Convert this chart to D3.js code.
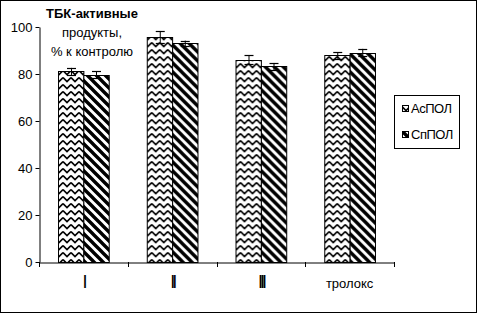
<!DOCTYPE html>
<html lang="ru">
<head>
    <meta charset="UTF-8">
    <title>ТБК-активные продукты</title>
    <style>
        body { margin: 0; background: #fff; }
        text { font-family: "Liberation Sans", Arial, sans-serif; fill: #000; }
        .tick-label { font-size: 13px; }
        .title { font-size: 13px; }
        .legend-label { font-size: 13px; }
    </style>
</head>
<body>
    <svg width="477" height="313"></svg>
    <script src="https://d3js.org/d3.v7.min.js"></script>
    <script>
        const categories = ["I", "II", "III", "тролокс"];
        const series = ["АсПОЛ", "СпПОЛ"];
        const asPOL = [81.1, 95.8, 86.0, 87.9];
        const spPOL = [79.6, 93.0, 83.2, 89.1];
        const asErr = [1.5, 2.5, 1.9, 1.4];
        const spErr = [1.5, 1.2, 1.5, 1.6];
        const yTicks = [0, 20, 40, 60, 80, 100];
        const titleLines = ["ТБК-активные", "продукты,", "% к контролю"];

        const svg = d3.select("svg"),
            margin = {top: 27, right: 83, bottom: 51, left: 39},
            width = 477 - margin.left - margin.right,
            height = 313 - margin.top - margin.bottom;

        // outer frame
        svg.append("rect")
            .attr("x", 0.5).attr("y", 0.5)
            .attr("width", 476).attr("height", 312)
            .attr("fill", "#fff").attr("stroke", "#000");

        const defs = svg.append("defs");

        // zigzag fill
        const zz = defs.append("pattern")
            .attr("id", "zigzag")
            .attr("patternUnits", "userSpaceOnUse")
            .attr("width", 8).attr("height", 7);
        zz.append("rect").attr("width", 8).attr("height", 7).attr("fill", "#fff");
        zz.append("path")
            .attr("d", "M0,1.5 L4,5.5 L8,1.5")
            .attr("fill", "none").attr("stroke", "#000").attr("stroke-width", 1.6);

        // diagonal stripes fill
        const st = defs.append("pattern")
            .attr("id", "stripes")
            .attr("patternUnits", "userSpaceOnUse")
            .attr("width", 9).attr("height", 9);
        st.append("rect").attr("width", 9).attr("height", 9).attr("fill", "#fff");
        st.append("path")
            .attr("d", "M-3,-3 L12,12 M-3,6 L3,12 M6,-3 L12,3")
            .attr("stroke", "#000").attr("stroke-width", 3.4);

        const fills = ["url(#zigzag)", "url(#stripes)"];

        const g = svg.append("g").attr("transform", `translate(${margin.left},${margin.top})`);

        const x = d3.scaleBand().domain(categories).range([0, width]).paddingInner(0).paddingOuter(0);
        const x1 = d3.scaleBand().domain(series).range([0, x.bandwidth()]).paddingInner(0).paddingOuter(0.75);
        const y = d3.scaleLinear().domain([0, 100]).range([height, 0]);

        const rows = categories.map((c, i) => ({
            cat: c,
            values: [
                {s: series[0], v: asPOL[i], e: asErr[i]},
                {s: series[1], v: spPOL[i], e: spErr[i]}
            ]
        }));

        const grp = g.selectAll(".grp")
            .data(rows)
            .enter().append("g")
            .attr("transform", d => `translate(${x(d.cat)},0)`);

        grp.selectAll("rect")
            .data(d => d.values)
            .enter().append("rect")
            .attr("x", d => x1(d.s) + 0.5)
            .attr("y", d => Math.round(y(d.v)) + 0.5)
            .attr("width", x1.bandwidth())
            .attr("height", d => height - Math.round(y(d.v)))
            .attr("fill", (d, i) => fills[i])
            .attr("stroke", "#000")
            .attr("stroke-width", 1);

        // error bars
        const eb = grp.selectAll(".err")
            .data(d => d.values)
            .enter().append("g")
            .attr("transform", d => `translate(${Math.round(x1(d.s) + x1.bandwidth() / 2) + 0.5},0)`);
        eb.append("line")
            .attr("y1", d => y(d.v + d.e)).attr("y2", d => y(d.v - d.e))
            .attr("stroke", "#000");
        eb.append("line")
            .attr("x1", -4.5).attr("x2", 4.5)
            .attr("y1", d => Math.round(y(d.v + d.e)) + 0.5).attr("y2", d => Math.round(y(d.v + d.e)) + 0.5)
            .attr("stroke", "#000").attr("stroke-width", 1.2);
        eb.append("line")
            .attr("x1", -4.5).attr("x2", 4.5)
            .attr("y1", d => Math.round(y(d.v - d.e)) + 0.5).attr("y2", d => Math.round(y(d.v - d.e)) + 0.5)
            .attr("stroke", "#000").attr("stroke-width", 1.2);

        // axes
        const yAxis = g.append("g")
            .attr("transform", "translate(0.5,0)")
            .call(d3.axisLeft(y).tickValues(yTicks).tickSize(4).tickSizeOuter(0));
        yAxis.selectAll("text").attr("class", "tick-label").attr("font-size", null).attr("font-family", null).attr("x", -7);

        const xAxis = g.append("g")
            .attr("transform", `translate(0,${height + 0.5})`)
            .call(d3.axisBottom(x).tickSize(0).tickSizeOuter(0));
        xAxis.selectAll("text")
            .attr("class", "tick-label")
            .attr("font-size", null).attr("font-family", null)
            .attr("dy", null).attr("y", 25)
            .style("font-size", d => d === "тролокс" ? "13px" : "18px")
            .style("letter-spacing", d => d === "тролокс" ? "0px" : "-3px");

        // category boundary ticks
        g.append("g").selectAll("line")
            .data(categories.concat([null]))
            .enter().append("line")
            .attr("x1", (d, i) => Math.round(i * x.step()) + 0.5)
            .attr("x2", (d, i) => Math.round(i * x.step()) + 0.5)
            .attr("y1", height).attr("y2", height + 5)
            .attr("stroke", "#000");

        // title
        svg.append("g").selectAll("text")
            .data(titleLines)
            .enter().append("text")
            .attr("class", "title")
            .attr("x", 92)
            .attr("y", (d, i) => 18 + i * 19)
            .attr("text-anchor", "middle")
            .style("font-weight", (d, i) => i === 0 ? "bold" : "normal")
            .text(d => d);

        // legend
        const lg = svg.append("g").attr("transform", "translate(394,95)");
        lg.append("rect")
            .attr("x", 0.5).attr("y", 0.5)
            .attr("width", 65).attr("height", 53)
            .attr("fill", "#fff").attr("stroke", "#000");
        const li = lg.selectAll(".li")
            .data(series)
            .enter().append("g")
            .attr("transform", (d, i) => `translate(8,${10 + i * 26})`);
        li.append("rect")
            .attr("x", 0.5).attr("y", 0.5)
            .attr("width", 6).attr("height", 6)
            .attr("fill", (d, i) => fills[i])
            .attr("stroke", "#000");
        li.append("text")
            .attr("class", "legend-label")
            .attr("x", 9).attr("y", 8)
            .style("letter-spacing", "-0.5px")
            .text(d => d);
    </script>
</body>
</html>
